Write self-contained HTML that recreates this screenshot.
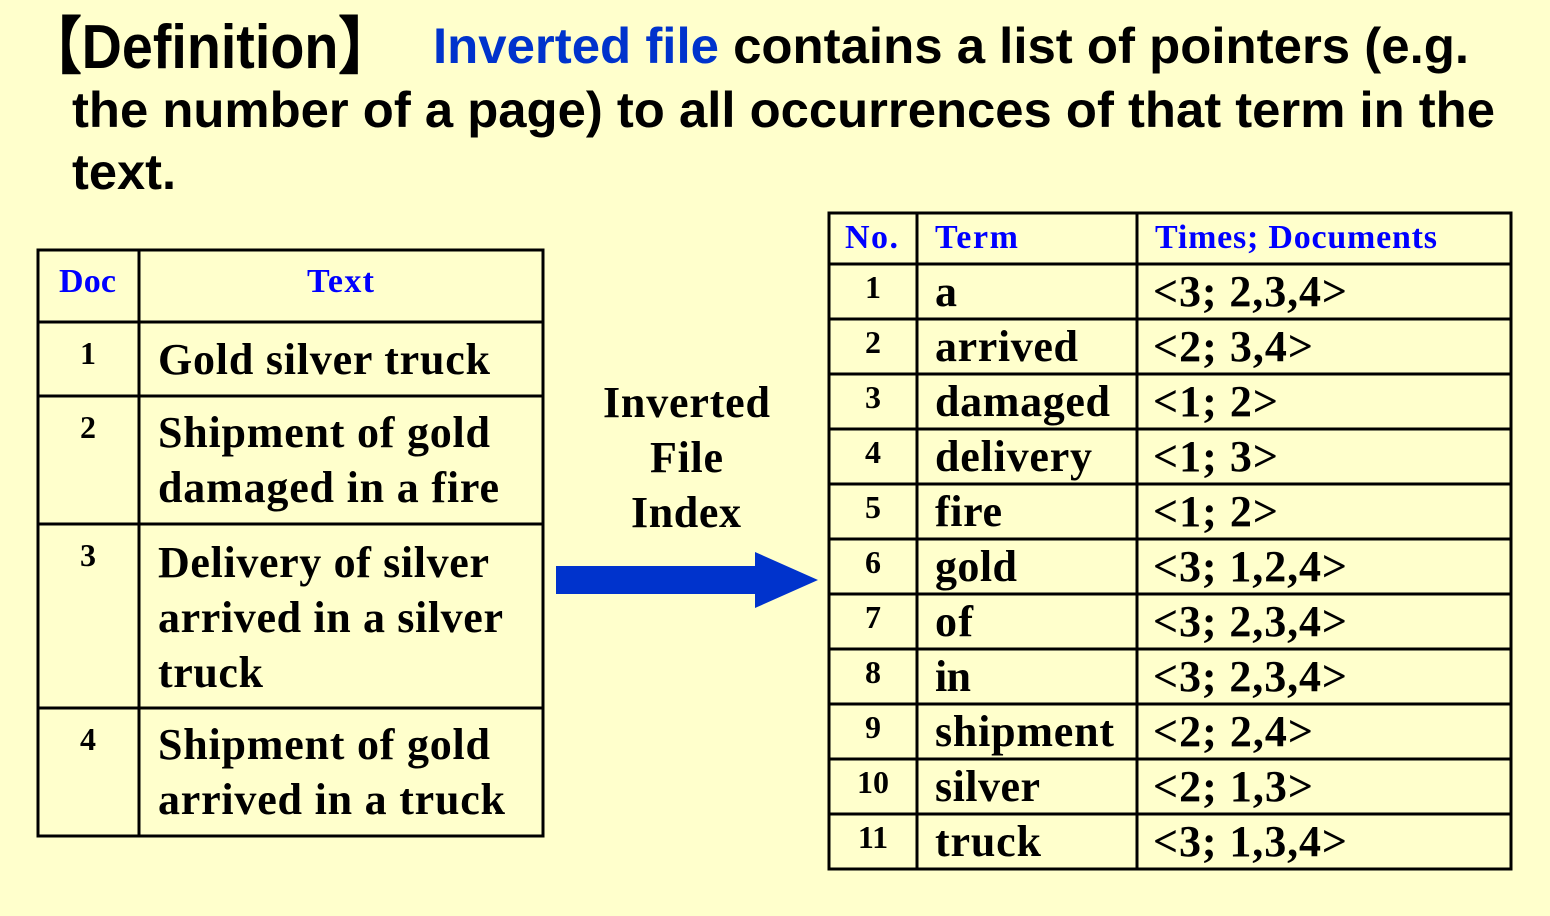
<!DOCTYPE html>
<html><head><meta charset="utf-8"><style>
html,body{margin:0;padding:0;background:#FFFFCC;}
svg{display:block}
.h{font-family:"Liberation Sans",sans-serif;font-weight:bold;}
.s{font-family:"Liberation Serif",serif;font-weight:bold;}
</style></head><body>
<svg width="1550" height="916" viewBox="0 0 1550 916" xmlns="http://www.w3.org/2000/svg">
<rect width="1550" height="916" fill="#FFFFCC"/>
<text class="h" x="26" y="68" font-size="62" textLength="368" lengthAdjust="spacingAndGlyphs" font-family="Liberation Sans, Noto Sans CJK JP, sans-serif">【Definition】</text>
<text class="h" x="433" y="63" font-size="50" textLength="1036" lengthAdjust="spacingAndGlyphs"><tspan fill="#0033CC">Inverted file</tspan> contains a list of pointers (e.g.</text>
<text class="h" x="72" y="127" font-size="50" textLength="1423" lengthAdjust="spacingAndGlyphs">the number of a page) to all occurrences of that term in the</text>
<text class="h" x="72" y="189" font-size="50" textLength="104" lengthAdjust="spacingAndGlyphs">text.</text>

<g stroke="#000" stroke-width="3" fill="none">
<rect x="38" y="250" width="505" height="586"/>
<line x1="139" y1="250" x2="139" y2="836"/>
<line x1="38" y1="322" x2="543" y2="322"/>
<line x1="38" y1="396" x2="543" y2="396"/>
<line x1="38" y1="524" x2="543" y2="524"/>
<line x1="38" y1="708" x2="543" y2="708"/>
<rect x="829" y="213" width="682" height="656"/>
<line x1="917" y1="213" x2="917" y2="869"/>
<line x1="1137" y1="213" x2="1137" y2="869"/>
<line x1="829" y1="264" x2="1511" y2="264"/>
<line x1="829" y1="319" x2="1511" y2="319"/>
<line x1="829" y1="374" x2="1511" y2="374"/>
<line x1="829" y1="429" x2="1511" y2="429"/>
<line x1="829" y1="484" x2="1511" y2="484"/>
<line x1="829" y1="539" x2="1511" y2="539"/>
<line x1="829" y1="594" x2="1511" y2="594"/>
<line x1="829" y1="649" x2="1511" y2="649"/>
<line x1="829" y1="704" x2="1511" y2="704"/>
<line x1="829" y1="759" x2="1511" y2="759"/>
<line x1="829" y1="814" x2="1511" y2="814"/>
</g>

<g class="s" fill="#0000FF" font-size="34" lengthAdjust="spacingAndGlyphs">
<text x="59" y="292" textLength="57">Doc</text>
<text x="307" y="292" textLength="67">Text</text>
<text x="845" y="248" textLength="53">No.</text>
<text x="935" y="248" textLength="83">Term</text>
<text x="1155" y="248" textLength="282">Times; Documents</text>
</g>
<g class="s" fill="#000" font-size="32" text-anchor="middle">
<text x="88" y="364">1</text>
<text x="88" y="438">2</text>
<text x="88" y="566">3</text>
<text x="88" y="750">4</text>
</g>
<g class="s" fill="#000" font-size="44" lengthAdjust="spacingAndGlyphs">
<text x="158" y="374" textLength="332">Gold silver truck</text>
<text x="158" y="447" textLength="332">Shipment of gold</text>
<text x="158" y="502" textLength="341">damaged in a fire</text>
<text x="158" y="577" textLength="331">Delivery of silver</text>
<text x="158" y="632" textLength="345">arrived in a silver</text>
<text x="158" y="687" textLength="105">truck</text>
<text x="158" y="759" textLength="332">Shipment of gold</text>
<text x="158" y="814" textLength="347">arrived in a truck</text>
</g>
<g class="s" fill="#000" font-size="44" lengthAdjust="spacingAndGlyphs">
<text x="603" y="417" textLength="167">Inverted</text>
<text x="650" y="472" textLength="73">File</text>
<text x="631" y="527" textLength="110">Index</text>
</g>
<polygon points="556,566 755,566 755,552 818,580 755,608 755,594 556,594" fill="#0033CC"/>

<g class="s" fill="#000" font-size="32" text-anchor="middle">
<text x="873" y="298">1</text><text x="873" y="353">2</text><text x="873" y="408">3</text>
<text x="873" y="463">4</text><text x="873" y="518">5</text><text x="873" y="573">6</text>
<text x="873" y="628">7</text><text x="873" y="683">8</text><text x="873" y="738">9</text>
<text x="873" y="793">10</text><text x="873" y="848">11</text>
</g>
<g class="s" fill="#000" font-size="44" lengthAdjust="spacingAndGlyphs">
<text x="935" y="306" textLength="21">a</text><text x="1153" y="306" textLength="194">&lt;3; 2,3,4&gt;</text>
<text x="935" y="361" textLength="143">arrived</text><text x="1153" y="361" textLength="160">&lt;2; 3,4&gt;</text>
<text x="935" y="416" textLength="175">damaged</text><text x="1153" y="416" textLength="125">&lt;1; 2&gt;</text>
<text x="935" y="471" textLength="157">delivery</text><text x="1153" y="471" textLength="125">&lt;1; 3&gt;</text>
<text x="935" y="526" textLength="67">fire</text><text x="1153" y="526" textLength="125">&lt;1; 2&gt;</text>
<text x="935" y="581" textLength="82">gold</text><text x="1153" y="581" textLength="194">&lt;3; 1,2,4&gt;</text>
<text x="935" y="636" textLength="38">of</text><text x="1153" y="636" textLength="194">&lt;3; 2,3,4&gt;</text>
<text x="935" y="691" textLength="36">in</text><text x="1153" y="691" textLength="194">&lt;3; 2,3,4&gt;</text>
<text x="935" y="746" textLength="179">shipment</text><text x="1153" y="746" textLength="160">&lt;2; 2,4&gt;</text>
<text x="935" y="801" textLength="105">silver</text><text x="1153" y="801" textLength="160">&lt;2; 1,3&gt;</text>
<text x="935" y="856" textLength="106">truck</text><text x="1153" y="856" textLength="194">&lt;3; 1,3,4&gt;</text>
</g>
</svg>
</body></html>
